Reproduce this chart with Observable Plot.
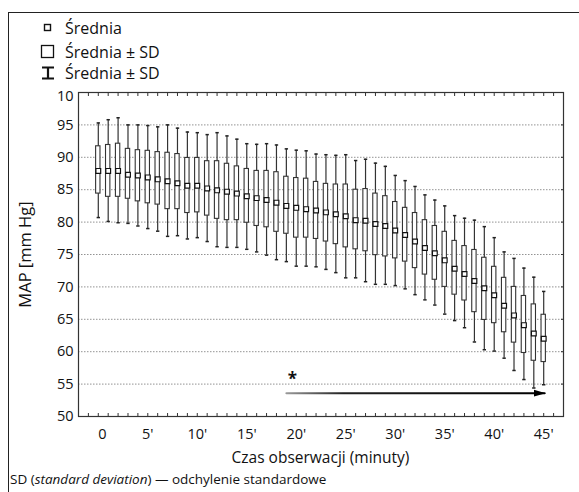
<!DOCTYPE html>
<html><head><meta charset="utf-8">
<script src="https://cdn.jsdelivr.net/npm/d3@7"></script>
<script src="https://cdn.jsdelivr.net/npm/@observablehq/plot@0.6"></script>
<style>
body{margin:0;background:#fff;font-family:"Open Sans",sans-serif;color:#111}
#wrap{position:relative;width:579px;height:492px;overflow:hidden;background:#fff}
#border{position:absolute;left:8px;top:12px;width:700px;height:700px;border-left:1.5px solid #222;border-top:1.5px solid #222;z-index:3}
.leg{position:absolute;left:0;height:22px;font-size:16px;line-height:22px;white-space:nowrap}
.leg svg{position:absolute;left:39px;top:3px}
.leg span{position:absolute;left:65px;top:0}
#chart{position:absolute;left:0;top:80px}
#xlabel{position:absolute;left:0;width:641px;top:446px;text-align:center;font-size:15.5px}
#caption{position:absolute;left:10px;top:470px;font-size:13.5px;white-space:nowrap}
</style></head>
<body>
<div id="wrap">
  <div id="border"></div>
  <div class="leg" style="top:17px"><svg width="18" height="16"><rect x="5.5" y="4.5" width="6" height="6" fill="#fff" stroke="#111" stroke-width="1.4"/></svg><span>Średnia</span></div>
  <div class="leg" style="top:41px"><svg width="18" height="16"><rect x="2.5" y="1.5" width="12" height="12" fill="#fff" stroke="#111" stroke-width="1.3"/></svg><span>Średnia ± SD</span></div>
  <div class="leg" style="top:62px"><svg width="18" height="16"><path d="M3,2.5H15M9,2.5V13.5M3,13.5H15" stroke="#111" stroke-width="2.2" fill="none"/></svg><span>Średnia ± SD</span></div>
  <div id="chart"></div>
  <div id="xlabel">Czas obserwacji (minuty)</div>
  <div id="caption">SD (<i>standard deviation</i>) — odchylenie standardowe</div>
</div>
<script>
const minutes = [0,1,2,3,4,5,6,7,8,9,10,11,12,13,14,15,16,17,18,19,20,21,22,23,24,25,26,27,28,29,30,31,32,33,34,35,36,37,38,39,40,41,42,43,44,45];
const meanMAP = [87.9,87.9,87.9,87.3,87.2,86.9,86.6,86.3,86.0,85.6,85.6,85.2,84.9,84.7,84.4,84.0,83.7,83.4,83.0,82.5,82.2,82.0,81.8,81.5,81.2,80.9,80.3,80.2,79.7,79.4,78.7,78.0,77.0,76.0,75.2,74.1,72.8,72.0,70.9,69.8,68.7,67.1,65.6,64.1,62.8,62.0];
const boxHigh = [91.7,91.9,92.1,91.3,91.1,91.0,90.8,90.7,90.5,89.9,89.9,89.4,89.4,89.0,88.6,88.2,87.9,87.9,87.7,87.0,86.8,86.7,86.2,85.9,85.8,85.8,85.0,85.1,84.4,84.0,83.1,82.2,81.4,80.3,79.4,78.5,77.1,76.3,75.7,74.5,73.1,71.4,70.0,68.6,67.3,65.7];
const boxLow = [84.4,83.9,83.9,83.6,83.2,82.9,82.7,82.0,82.0,81.4,81.5,81.0,80.5,80.3,80.3,79.9,79.4,79.2,78.5,78.2,77.6,77.6,77.4,77.0,76.6,76.1,75.8,75.5,74.9,74.7,74.4,73.9,72.9,71.9,71.1,70.0,68.8,67.9,66.1,64.9,64.4,63.0,61.4,59.8,58.6,58.4];
const whiskHigh = [95.3,95.8,96.1,95.0,95.0,94.9,94.7,95.0,94.5,93.9,93.8,93.5,93.8,93.3,92.8,92.1,92.0,92.1,91.9,91.3,91.1,91.0,90.5,90.4,90.3,90.4,89.5,89.7,89.1,88.6,87.2,86.4,85.5,84.2,83.4,82.5,81.0,80.6,80.3,79.3,77.6,75.4,74.4,72.9,71.5,69.3];
const whiskLow = [80.7,80.1,79.9,79.8,79.4,79.0,78.6,77.8,77.9,77.4,77.6,77.0,76.2,76.1,76.1,75.8,75.4,74.9,74.2,73.9,73.2,73.2,73.1,72.7,72.2,71.4,71.4,70.8,70.4,70.4,70.2,69.7,68.8,68.0,67.2,65.8,64.8,63.7,61.5,60.3,60.1,59.0,57.1,55.7,54.4,54.9];
const yTicks = [50,55,60,65,70,75,80,85,90,95];
const yTopTick = [100];
const yGrid = [55,60,65,70,75,80,85,90,95];
const xLabelTicks = [0,5,10,15,20,25,30,35,40,45];
const xMinorTicks = [-1,0,1,2,3,4,5,6,7,8,9,10,11,12,13,14,15,16,17,18,19,20,21,22,23,24,25,26,27,28,29,30,31,32,33,34,35,36,37,38,39,40,41,42,43,44,45,46];
const yLabel = "MAP [mm Hg]";
const starNote = [{x: 19.6, y: 55.7, text: "*"}];
const trendArrow = [{x: 19.0, y: 53.6}, {x: 45.1, y: 53.6}];

const rows = minutes.map((t, i) => ({t, mean: meanMAP[i], lo: boxLow[i], hi: boxHigh[i], wlo: whiskLow[i], whi: whiskHigh[i]}));
const hw = 0.22, cw = 0.17;
const ARROW_STROKE = "#010203";

const plot = Plot.plot({
  width: 579, height: 370,
  marginLeft: 78, marginRight: 16, marginTop: 12, marginBottom: 34,
  style: {fontFamily: "'Open Sans', sans-serif", fontSize: "14px", background: "none", color: "#111"},
  x: {domain: [-2, 47]},
  y: {domain: [50, 100]},
  marks: [
    Plot.gridY(yGrid, {stroke: "#777", strokeOpacity: 1, strokeWidth: 0.8, strokeDasharray: "1.5,1.5"}),
    Plot.axisY(yTicks, {tickSize: 0, tickPadding: 5, fontSize: 14.5, label: null}),
    Plot.axisY(yTopTick, {tickSize: 0, tickPadding: 5, fontSize: 14.5, dy: 4, tickFormat: () => "10", label: null}),
    Plot.axisY(yGrid, {anchor: "right", tickSize: -3, tickFormat: () => "", label: null, stroke: "#333"}),
    Plot.axisX(xMinorTicks, {tickSize: -3, tickFormat: () => "", label: null, stroke: "#333"}),
    Plot.axisX(xMinorTicks, {anchor: "top", tickSize: -3, tickFormat: () => "", label: null, stroke: "#333"}),
    Plot.axisX(xLabelTicks, {tickSize: 0, tickPadding: 12, fontSize: 14.5, tickFormat: d => d === 0 ? "\u20070" : d + "'", label: null}),
    Plot.text([yLabel], {frameAnchor: "left", dx: -53, rotate: -90, textAnchor: "middle", text: d => d, fontSize: 16.5}),
    Plot.ruleX(rows, {x: "t", y1: "wlo", y2: "whi", stroke: "#333", strokeWidth: 1.2}),
    Plot.link(rows, {x1: d => d.t - cw, x2: d => d.t + cw, y1: "whi", y2: "whi", stroke: "#222", strokeWidth: 1.5}),
    Plot.link(rows, {x1: d => d.t - cw, x2: d => d.t + cw, y1: "wlo", y2: "wlo", stroke: "#222", strokeWidth: 1.5}),
    Plot.rect(rows, {x1: d => d.t - hw, x2: d => d.t + hw, y1: "lo", y2: "hi", fill: "white", stroke: "#333", strokeWidth: 1.1}),
    Plot.dot(rows, {x: "t", y: "mean", symbol: "square", r: 2.7, fill: "white", stroke: "#111", strokeWidth: 1.2}),
    Plot.text(starNote, {x: "x", y: "y", text: "text", fontSize: 17, fontWeight: "bold"}),
    Plot.line(trendArrow, {x: "x", y: "y", stroke: ARROW_STROKE, strokeWidth: 2}),
    Plot.frame({stroke: "#333", strokeWidth: 1.2})
  ]
});
document.getElementById("chart").appendChild(plot);

// gradient + filled arrow head for the trend arrow, positioned via the scales
const sx = plot.scale("x");
const ns = "http://www.w3.org/2000/svg";
const defs = document.createElementNS(ns, "defs");
const x1 = sx.apply(trendArrow[0].x), x2 = sx.apply(trendArrow[1].x);
defs.innerHTML = `<linearGradient id="arrowGrad" gradientUnits="userSpaceOnUse" x1="${x1}" y1="0" x2="${x2}" y2="0">
  <stop offset="0" stop-color="#999"/><stop offset="0.22" stop-color="#222"/><stop offset="1" stop-color="#000"/></linearGradient>
  <marker id="arrowHead" markerUnits="userSpaceOnUse" viewBox="0 -4 12 8" refX="11" refY="0" markerWidth="12" markerHeight="8" orient="auto">
  <path d="M0,-3.5L12,0L0,3.5Z" fill="#000"/></marker>`;
plot.insertBefore(defs, plot.firstChild);
plot.querySelectorAll("[stroke]").forEach(el => {
  if ((el.getAttribute("stroke") || "").toLowerCase() === ARROW_STROKE) {
    el.setAttribute("stroke", "url(#arrowGrad)");
    const paths = el.tagName.toLowerCase() === "path" ? [el] : el.querySelectorAll("path");
    paths.forEach(p => p.setAttribute("marker-end", "url(#arrowHead)"));
  }
});
</script>
</body></html>
